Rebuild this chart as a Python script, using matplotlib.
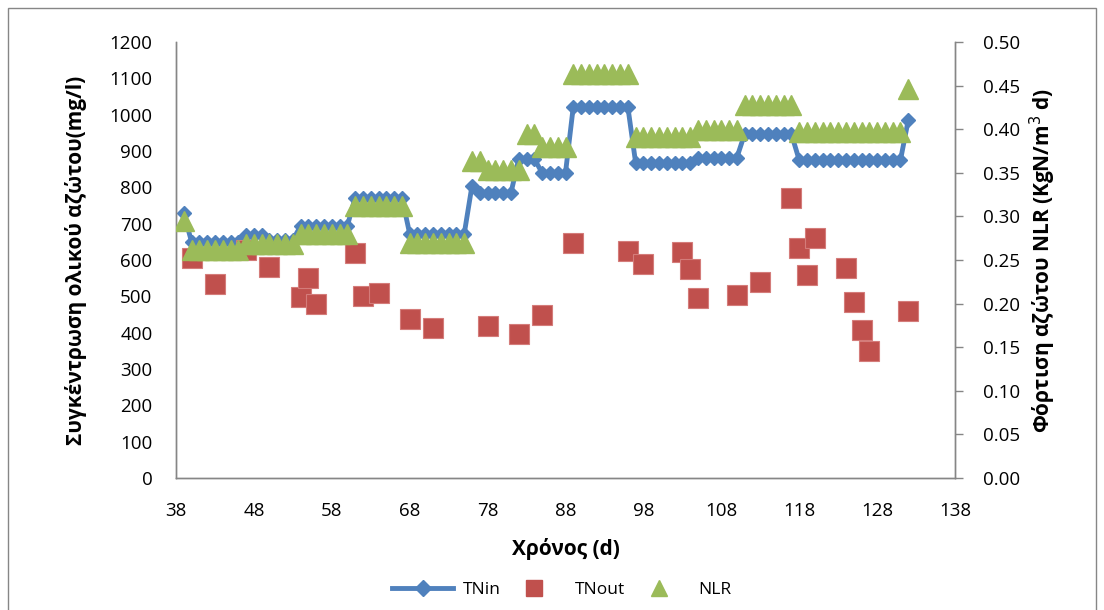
import matplotlib
matplotlib.use('Agg')
import matplotlib.pyplot as plt
from matplotlib.patches import Rectangle
from matplotlib.lines import Line2D
from matplotlib.ticker import FormatStrFormatter

plt.rcParams['font.family'] = ['Open Sans', 'DejaVu Sans']

# TNin (mg/l), roughly one reading per day
tnin_days = [39, 40, 41, 42, 43, 44, 45, 46, 47, 48, 49, 50, 51, 52, 53,
             54, 55, 56, 57, 58, 59, 60, 61, 62, 63, 64, 65, 66, 67,
             68, 69, 70, 71, 72, 73, 74, 75, 76, 77, 78, 79, 80, 81,
             82, 83, 84, 85, 86, 87, 88, 89, 90, 91, 92, 93, 94, 95, 96,
             97, 98, 99, 100, 101, 102, 103, 104, 105, 106, 107, 108, 109, 110,
             111, 112, 113, 114, 115, 116, 117, 118, 119, 120, 121, 122, 123,
             124, 125, 126, 127, 128, 129, 130, 131, 132]
tnin = [728, 650, 650, 650, 650, 650, 650, 650, 668, 668, 668, 655, 655, 655, 655,
        694, 694, 694, 694, 694, 694, 694, 772, 772, 772, 772, 772, 772, 772,
        672, 672, 672, 672, 672, 672, 672, 672, 805, 785, 785, 785, 785, 785,
        878, 878, 878, 840, 840, 840, 840, 1022, 1022, 1022, 1022, 1022, 1022, 1022, 1022,
        868, 868, 868, 868, 868, 868, 868, 868, 882, 882, 882, 882, 882, 882,
        947, 947, 947, 947, 947, 947, 947, 875, 875, 875, 875, 875, 875,
        875, 875, 875, 875, 875, 875, 875, 875, 985]

# TNout (mg/l)
tnout_days = [40, 43, 47, 50, 54, 55, 56, 61, 62, 64, 68, 71, 78, 82, 85, 89,
              96, 98, 103, 104, 105, 110, 113, 117, 118, 119, 120, 124, 125,
              126, 127, 132]
tnout = [605, 534, 628, 581, 498, 550, 479, 619, 501, 509, 438, 413, 418, 396,
         449, 647, 625, 589, 622, 575, 495, 504, 539, 771, 633, 559, 661, 578,
         484, 407, 350, 460]

# NLR (KgN/m3 d)
nlr_days = [39, 40, 41, 42, 43, 44, 45, 46, 47, 48, 49, 50, 51, 52, 53,
            54, 55, 56, 57, 58, 59, 60, 61, 62, 63, 64, 65, 66, 67,
            68, 69, 70, 71, 72, 73, 74, 75, 76, 77, 78, 79, 80, 81, 82,
            83, 84, 85, 86, 87, 88, 89, 90, 91, 92, 93, 94, 95, 96,
            97, 98, 99, 100, 101, 102, 103, 104, 105, 106, 107, 108, 109, 110,
            111, 112, 113, 114, 115, 116, 117, 118, 119, 120, 121, 122, 123,
            124, 125, 126, 127, 128, 129, 130, 131, 132]
nlr = [0.295, 0.262, 0.262, 0.262, 0.262, 0.262, 0.262, 0.262, 0.268, 0.268, 0.268,
       0.268, 0.268, 0.268, 0.268,
       0.280, 0.280, 0.280, 0.280, 0.280, 0.280, 0.280,
       0.312, 0.312, 0.312, 0.312, 0.312, 0.312, 0.312,
       0.270, 0.270, 0.270, 0.270, 0.270, 0.270, 0.270, 0.270,
       0.363, 0.363, 0.353, 0.353, 0.353, 0.353, 0.353,
       0.394, 0.394, 0.380, 0.380, 0.380, 0.380,
       0.463, 0.463, 0.463, 0.463, 0.463, 0.463, 0.463, 0.463,
       0.391, 0.391, 0.391, 0.391, 0.391, 0.391, 0.391, 0.391,
       0.399, 0.399, 0.399, 0.399, 0.399, 0.399,
       0.428, 0.428, 0.428, 0.428, 0.428, 0.428, 0.428,
       0.397, 0.397, 0.397, 0.397, 0.397, 0.397, 0.397, 0.397, 0.397, 0.397,
       0.397, 0.397, 0.397, 0.397, 0.446]

blue = '#4F81BD'
red = '#C0504D'
green = '#9BBB59'
grey = '#868686'

fig = plt.figure(figsize=(11.04, 6.10), dpi=100)
ax = fig.add_axes([176 / 1104, 1 - 478 / 610, 779 / 1104, 436 / 610])
ax2 = ax.twinx()

# outer chart border (cut at the bottom like the reference)
fig.patches.append(Rectangle((8 / 1104, -0.1), 1088 / 1104, 1.1 - 8 / 610,
                             transform=fig.transFigure, fill=False,
                             edgecolor=grey, linewidth=1.0))

ax.plot(tnin_days, tnin, color=blue, linewidth=3.5, marker='D', markersize=7,
        markeredgecolor=blue, zorder=2)
ax.plot(tnout_days, tnout, linestyle='none', marker='s', markersize=14,
        color=red, markeredgecolor='#D47C7A', markeredgewidth=0.8, zorder=3)
ax2.plot(nlr_days, nlr, linestyle='none', marker='^', markersize=14,
         color=green, markeredgecolor=green, zorder=3)

ax.set_xlim(38, 138)
ax.set_ylim(0, 1200)
ax2.set_ylim(0, 0.5)
ax.set_xticks(range(38, 139, 10))
ax.set_yticks(range(0, 1201, 100))
ax2.set_yticks([i * 0.05 for i in range(11)])
ax2.yaxis.set_major_formatter(FormatStrFormatter('%.2f'))

for a in (ax, ax2):
    a.spines['top'].set_visible(False)
    for s in ('left', 'right', 'bottom'):
        a.spines[s].set_color(grey)
        a.spines[s].set_linewidth(1.0)
    a.tick_params(colors=grey, labelcolor='black', labelsize=13.5,
                  direction='out', width=1)
ax.tick_params(axis='x', length=0, pad=17)
ax.tick_params(axis='y', length=0, pad=17)
ax2.tick_params(axis='y', length=6, pad=14)

ax.set_xlabel('Χρόνος (d)', fontsize=15, fontweight='bold', labelpad=13)
ax.set_ylabel('Συγκέντρωση ολικού αζώτου(mg/l)', fontsize=15,
              fontweight='bold', labelpad=16)
ax2.set_ylabel('Φόρτιση αζώτου NLR (KgN/m$^3$ d)', fontsize=15,
               fontweight='bold', rotation=90, labelpad=6)

handles = [
    Line2D([], [], color=blue, linewidth=3.5, marker='D', markersize=8),
    Line2D([], [], color=red, linestyle='none', marker='s', markersize=11),
    Line2D([], [], color=green, linestyle='none', marker='^', markersize=11),
]
fig.legend(handles, ['TNin', 'TNout', 'NLR'], loc='center',
           bbox_to_anchor=(562 / 1104, 1 - 590 / 610), ncol=3, frameon=False,
           fontsize=12.5, handlelength=3.5, columnspacing=0.2, handletextpad=0.55)

fig.savefig('out.png', dpi=100)
